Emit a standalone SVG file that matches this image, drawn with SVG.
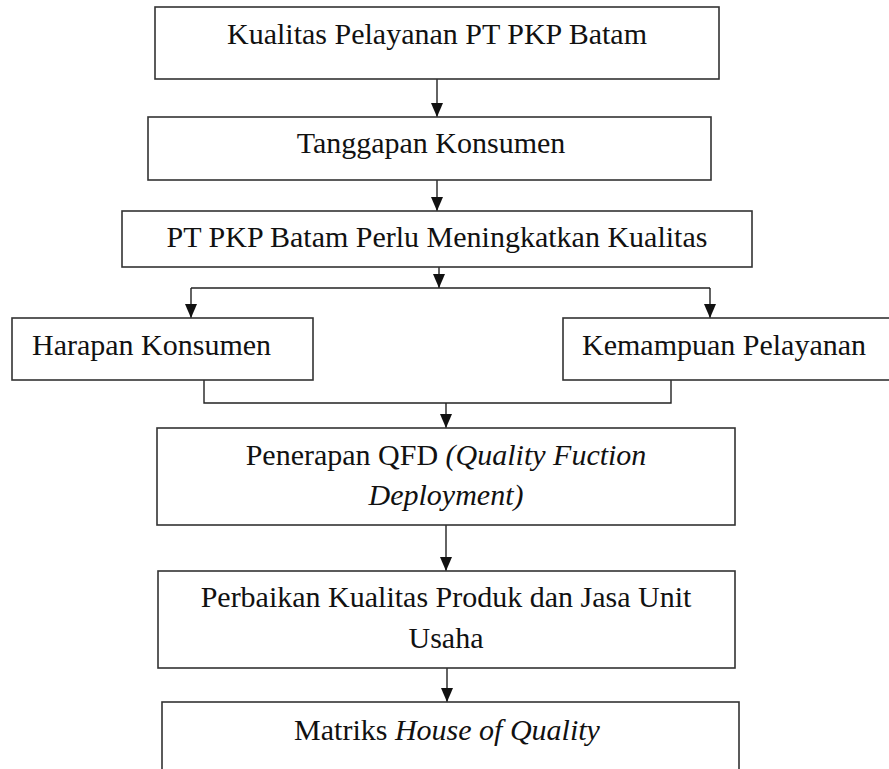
<svg xmlns="http://www.w3.org/2000/svg" width="889" height="769" viewBox="0 0 889 769">
<style>
.box{fill:#fff;stroke:#333;stroke-width:1.6}
.t{font-family:"Liberation Serif","Times New Roman",serif;font-size:30px;fill:#111}
.c{text-anchor:middle}
.i{font-style:italic}
.ln{fill:none;stroke:#222;stroke-width:1.4}
</style>
<defs>
<marker id="ah" viewBox="0 0 14 12" refX="14" refY="6" markerWidth="14" markerHeight="12" markerUnits="userSpaceOnUse" orient="auto">
<path d="M0,0 L14,6 L0,12 Z" fill="#111"/>
</marker>
</defs>
<rect width="889" height="769" fill="#fff"/>
<g id="connectors">
<line class="ln" x1="437" y1="79" x2="437" y2="117" marker-end="url(#ah)"/>
<line class="ln" x1="437" y1="180" x2="437" y2="211" marker-end="url(#ah)"/>
<line class="ln" x1="439" y1="267" x2="439" y2="288" marker-end="url(#ah)"/>
<polyline class="ln" points="191,288 710,288"/>
<line class="ln" x1="191" y1="288" x2="191" y2="318" marker-end="url(#ah)"/>
<line class="ln" x1="710" y1="288" x2="710" y2="318" marker-end="url(#ah)"/>
<polyline class="ln" points="204,380 204,403 671,403 671,380"/>
<line class="ln" x1="446" y1="403" x2="446" y2="428" marker-end="url(#ah)"/>
<line class="ln" x1="446" y1="525" x2="446" y2="571" marker-end="url(#ah)"/>
<line class="ln" x1="447" y1="668" x2="447" y2="702" marker-end="url(#ah)"/>
</g>
<g id="n1">
<rect class="box" x="155" y="7" width="564" height="72"/>
<text class="t c" x="437" y="44">Kualitas Pelayanan PT PKP Batam</text>
</g>
<g id="n2">
<rect class="box" x="148" y="117" width="563" height="63"/>
<text class="t c" x="431" y="153">Tanggapan Konsumen</text>
</g>
<g id="n3">
<rect class="box" x="122" y="211" width="630" height="56"/>
<text class="t c" x="437" y="247">PT PKP Batam Perlu Meningkatkan Kualitas</text>
</g>
<g id="n4">
<rect class="box" x="12" y="318" width="301" height="62"/>
<text class="t" x="32" y="355">Harapan Konsumen</text>
</g>
<g id="n5">
<rect class="box" x="563" y="318" width="340" height="62"/>
<text class="t" x="582" y="355">Kemampuan Pelayanan</text>
</g>
<g id="n6">
<rect class="box" x="157" y="428" width="578" height="97"/>
<text class="t c" x="446" y="465">Penerapan QFD <tspan class="i">(Quality Fuction</tspan></text>
<text class="t c i" x="446" y="505">Deployment)</text>
</g>
<g id="n7">
<rect class="box" x="158" y="571" width="577" height="97"/>
<text class="t c" x="446" y="607">Perbaikan Kualitas Produk dan Jasa Unit</text>
<text class="t c" x="446" y="648">Usaha</text>
</g>
<g id="n8">
<rect class="box" x="162" y="702" width="577" height="90"/>
<text class="t c" x="447" y="740">Matriks <tspan class="i">House of Quality</tspan></text>
</g>
</svg>
